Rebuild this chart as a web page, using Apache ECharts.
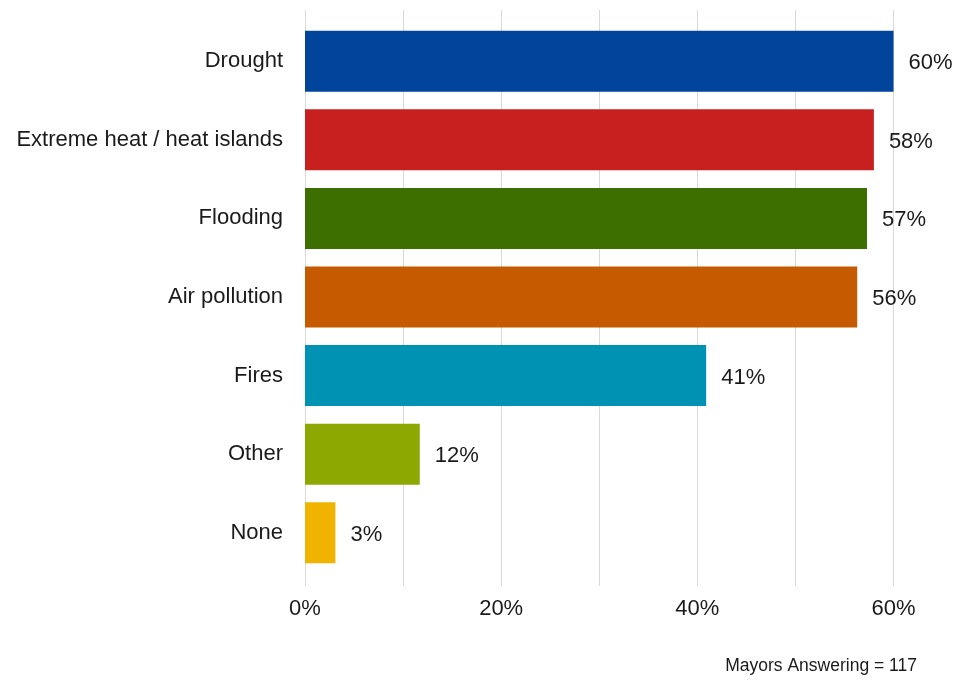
<!DOCTYPE html>
<html>
<head>
<meta charset="utf-8">
<script src="https://cdn.jsdelivr.net/npm/echarts@6/dist/echarts.min.js"></script>
<style>
html,body{margin:0;padding:0;background:#fff;}
#chart{width:956px;height:681px;}
</style>
</head>
<body>
<div id="chart"></div>
<script>
const categories = ["Drought", "Extreme heat / heat islands", "Flooding", "Air pollution", "Fires", "Other", "None"];
const values = [60.2, 58.0, 57.3, 56.3, 40.9, 11.7, 3.1];
const colors = ["#00449C", "#C8201E", "#3D6E00", "#C55A00", "#0092B3", "#8EA802", "#F0B400"];
const xTicks = [0, 20, 40, 60];
const note = "Mayors Answering = 117";

const FONT = '"Liberation Sans", Arial, sans-serif';

const chart = echarts.init(document.getElementById('chart'));
chart.setOption({
  backgroundColor: '#fff',
  animation: false,
  grid: [
    {left: 305, right: 62.5, top: 10, bottom: 95, containLabel: false, outerBoundsMode: 'none'},
    {left: 305, right: 62.5, top: 22, bottom: 109, containLabel: false, outerBoundsMode: 'none'}
  ],
  xAxis: [
    {
      gridIndex: 0, type: 'value', min: 0, max: 60, interval: 10,
      axisLine: {show: false}, axisTick: {show: false},
      splitLine: {show: true, lineStyle: {color: '#d9d9d9', width: 1}},
      axisLabel: {
        margin: 12, fontFamily: FONT, fontSize: 22, color: '#1a1a1a',
        formatter: v => xTicks.indexOf(v) >= 0 ? v + '%' : ''
      }
    },
    {
      gridIndex: 1, type: 'value', min: 0, max: 60, show: false
    }
  ],
  yAxis: [
    {gridIndex: 0, type: 'category', data: categories, show: false},
    {
      gridIndex: 1, type: 'category', data: categories, inverse: true,
      axisLine: {show: false}, axisTick: {show: false},
      axisLabel: {margin: 22, fontFamily: FONT, fontSize: 22, color: '#1a1a1a', padding: [4, 0, 0, 0]}
    }
  ],
  graphic: [{
    type: 'text', right: 39, top: 657,
    style: {text: note, fontFamily: FONT, fontSize: 17.5, fill: '#1a1a1a'}
  }],
  series: [{
    type: 'bar', xAxisIndex: 1, yAxisIndex: 1,
    barWidth: 61,
    data: values.map((v, i) => ({value: v, itemStyle: {color: colors[i]}})),
    label: {
      show: true, position: 'right', distance: 15, offset: [0, 2],
      fontFamily: FONT, fontSize: 22, color: '#1a1a1a',
      formatter: p => Math.round(p.value) + '%'
    }
  }]
});
</script>
</body>
</html>
